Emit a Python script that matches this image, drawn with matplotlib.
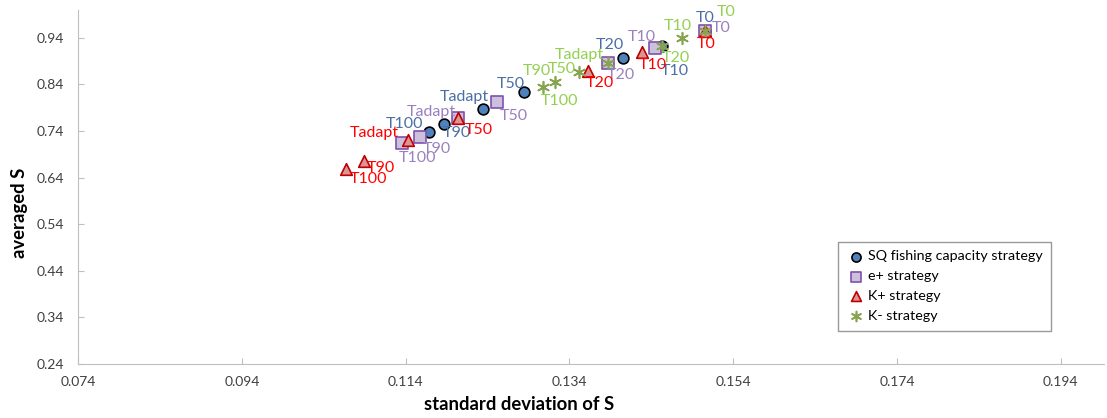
import matplotlib
matplotlib.use("Agg")
import matplotlib.pyplot as plt

# --- data: (std dev of S, averaged S) per harvest scenario ---
labels = ["T0", "T10", "T20", "T50", "Tadapt", "T90", "T100"]

sq_x = [0.1505, 0.1453, 0.1406, 0.1284, 0.1234, 0.1187, 0.1168]
sq_y = [0.9556, 0.9234, 0.8976, 0.8229, 0.7872, 0.7556, 0.7384]

ep_x = [0.1505, 0.1444, 0.1387, 0.1252, 0.1204, 0.1157, 0.1135]
ep_y = [0.9556, 0.9191, 0.8862, 0.8023, 0.7679, 0.7283, 0.7141]

kp_x = [0.1505, 0.1429, 0.1363, 0.1204, 0.1143, 0.1089, 0.1067]
kp_y = [0.9556, 0.9105, 0.8696, 0.7679, 0.7212, 0.6760, 0.6582]

km_x = [0.1505, 0.1478, 0.1453, 0.1352, 0.1387, 0.1308, 0.1322]
km_y = [0.9556, 0.9400, 0.9234, 0.8660, 0.8862, 0.8337, 0.8444]

x_ticks = [0.074, 0.094, 0.114, 0.134, 0.154, 0.174, 0.194]
y_ticks = [0.24, 0.34, 0.44, 0.54, 0.64, 0.74, 0.84, 0.94]

# label offsets in pixels (dx, dy up), same order as labels
sq_off = [(1, 13), (13, -25), (-14, 13), (-13, 8), (-18, 12), (13, -9), (-24, 8)]
ep_off = [(17, 3), (-13, 11), (13, -12), (16, -14), (-27, 6), (17, -12), (16, -15)]
kp_off = [(2, -13), (10, -13), (12, -12), (21, -12), (-34, 7), (17, -7), (23, -10)]
km_off = [(22, 19), (-5, 12), (14, -12), (-17, 3), (-29, 8), (-6, 16), (5, -19)]

plt.rcParams['font.family'] = ['Lato', 'DejaVu Sans']

fig = plt.figure(figsize=(11.07, 4.18), dpi=100)
ax = fig.add_axes([0.0705, 0.1292, 0.927, 0.847])

ax.scatter(sq_x, sq_y, s=60, marker='o', facecolor='#4F81BD', edgecolor='black',
           linewidth=1.2, zorder=2, label='SQ fishing capacity strategy')
ax.scatter(ep_x, ep_y, s=80, marker='s', facecolor='#CCC1DA', edgecolor='#7F50B0',
           linewidth=1.2, zorder=3, label='e+ strategy')
ax.scatter(kp_x, kp_y, s=70, marker='^', facecolor='#D99694', edgecolor='#C00000',
           linewidth=1.2, zorder=4, label='K+ strategy')
ax.scatter(km_x, km_y, s=70, marker=(6, 2, 0), color='#86A34E',
           linewidth=1.2, zorder=5, label='K- strategy')

series = [
    (sq_x, sq_y, sq_off, '#4A6FA5'),
    (ep_x, ep_y, ep_off, '#9A80C0'),
    (kp_x, kp_y, kp_off, '#FF0000'),
    (km_x, km_y, km_off, '#92D050'),
]
for xs, ys, offs, col in series:
    for lab, x, y, off in zip(labels, xs, ys, offs):
        ax.annotate(lab, (x, y), xytext=off, textcoords='offset pixels',
                    ha='center', va='center', fontsize=11.5, color=col, zorder=6)

ax.set_xlim(0.074, 0.1993)
ax.set_ylim(0.24, 1.0)
ax.set_xticks(x_ticks)
ax.set_xticklabels([f"{v:.3f}" for v in x_ticks])
ax.set_yticks(y_ticks)
ax.set_yticklabels([f"{v:.2f}" for v in y_ticks])
ax.tick_params(direction='in', length=4, color='#BFBFBF', labelsize=10,
               labelcolor='#404040')
ax.tick_params(axis='x', pad=9)
ax.tick_params(axis='y', pad=10)
for side in ['top', 'right']:
    ax.spines[side].set_visible(False)
for side in ['left', 'bottom']:
    ax.spines[side].set_color('#BFBFBF')

ax.set_xlabel("standard deviation of S", fontsize=13.3, fontweight='bold')
ax.set_ylabel("averaged S", fontsize=13.3, fontweight='bold')
ax.xaxis.set_label_coords(0.43, -0.09)
ax.yaxis.set_label_coords(-0.049, 0.427)

leg = ax.legend(loc='upper left', bbox_to_anchor=(0.741, 0.345), frameon=True,
                fancybox=False, fontsize=10.3, handletextpad=0.15, markerscale=0.85,
                borderpad=0.6, labelspacing=0.55, handlelength=1.3,
                borderaxespad=0)
leg.get_frame().set_edgecolor('#808080')
leg.get_frame().set_linewidth(1.0)

plt.savefig("out.png", dpi=100)
